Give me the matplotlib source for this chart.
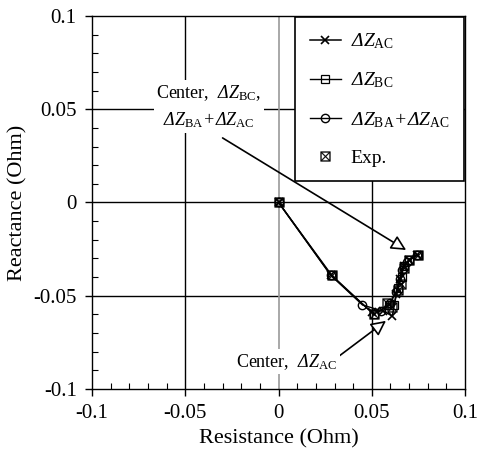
import matplotlib
matplotlib.use("Agg")
import matplotlib.pyplot as plt
from matplotlib.ticker import MultipleLocator

plt.rcParams['font.family'] = ['Liberation Serif', 'DejaVu Serif']
# italic Greek capitals: mathtext forces them to 'rm', so make 'rm' the italic face
# and use 'sf' (set to the upright serif) for the subscripts
plt.rcParams['mathtext.fontset'] = 'custom'
plt.rcParams['mathtext.rm'] = 'Liberation Serif:italic'
plt.rcParams['mathtext.it'] = 'Liberation Serif:italic'
plt.rcParams['mathtext.sf'] = 'Liberation Serif'

# data (Ohm)
exp_r = [0.0, 0.0285, 0.051, 0.058, 0.061, 0.064, 0.0655, 0.067, 0.070, 0.075]
exp_x = [0.0, -0.039, -0.060, -0.054, -0.056, -0.047, -0.044, -0.035, -0.031, -0.028]

ac_r = [0.0, 0.028, 0.050, 0.056, 0.061, 0.063, 0.065, 0.067, 0.070, 0.074]
ac_x = [0.0, -0.039, -0.059, -0.058, -0.061, -0.049, -0.041, -0.034, -0.031, -0.028]

bc_r = [0.0, 0.0285, 0.051, 0.059, 0.062, 0.064, 0.066, 0.067, 0.070, 0.075]
bc_x = [0.0, -0.039, -0.060, -0.055, -0.055, -0.046, -0.040, -0.034, -0.031, -0.028]

baac_r = [0.0, 0.028, 0.045, 0.055, 0.060, 0.063, 0.065, 0.066, 0.069, 0.074]
baac_x = [0.0, -0.039, -0.055, -0.058, -0.054, -0.048, -0.041, -0.036, -0.032, -0.028]

labels = [r'$\Delta Z_{\mathsf{AC}}$',
          r'$\Delta Z_{\mathsf{BC}}$',
          r'$\Delta Z_{\mathsf{BA}}\!+\!\Delta Z_{\mathsf{AC}}$',
          'Exp.']

# arrow ends: text side -> centre
arrow1 = ((-0.030, 0.0346), (0.0684, -0.0255))
arrow2 = ((0.0319, -0.0828), (0.0576, -0.0635))

fig = plt.figure(figsize=(4.78, 4.57), dpi=100)
ax = fig.add_axes([0.1925, 0.149, 0.7805, 0.816])

ax.set_xlim(-0.1, 0.1)
ax.set_ylim(-0.1, 0.1)
ax.xaxis.set_major_locator(MultipleLocator(0.05))
ax.yaxis.set_major_locator(MultipleLocator(0.05))
ax.xaxis.set_minor_locator(MultipleLocator(0.01))
ax.yaxis.set_minor_locator(MultipleLocator(0.01))
ax.xaxis.set_major_formatter(plt.FuncFormatter(lambda v, p: '%g' % round(v, 3)))
ax.yaxis.set_major_formatter(plt.FuncFormatter(lambda v, p: '%g' % round(v, 3)))
ax.tick_params(which='major', direction='out', length=5, width=1, labelsize=15, pad=6, colors='black')
ax.tick_params(which='minor', direction='in', length=4, width=0.8)

for v in (-0.05, 0.05):
    ax.axvline(v, color='black', lw=1, zorder=0)
    ax.axhline(v, color='black', lw=1, zorder=0)
ax.axhline(0, color='black', lw=1, zorder=0)
ax.axvline(0, color='#999999', lw=1.2, zorder=0)

for s in ax.spines.values():
    s.set_linewidth(1)

ax.plot(ac_r, ac_x, color='black', lw=1.1, marker='x', ms=6, mew=1.2, label=labels[0])
ax.plot(bc_r, bc_x, color='black', lw=1.0, marker='s', ms=6, mfc='none', mew=0.9, label=labels[1])
ax.plot(baac_r, baac_x, color='black', lw=1.0, marker='o', ms=6, mfc='none', mew=1.0, label=labels[2])
ax.plot(exp_r, exp_x, linestyle='none', color='black', marker=r'$\boxtimes$', ms=7, mew=0.3, label=labels[3])

ap = dict(arrowstyle='-|>,head_length=0.9,head_width=0.45', fc='white', ec='black', lw=1.2,
          shrinkA=0, shrinkB=0)
ax.annotate('', xy=arrow1[1], xytext=arrow1[0], arrowprops=ap)
ax.annotate('', xy=arrow2[1], xytext=arrow2[0], arrowprops=ap)

bb = dict(facecolor='white', edgecolor='none', pad=2)
ax.text(-0.0375, 0.0515,
        'Center,  $\\Delta Z_{\\mathsf{BC}}$,\n' + labels[2],
        ha='center', va='center', fontsize=13, linespacing=1.5, bbox=bb)
ax.text(0.0315, -0.0855, 'Center,  $\\Delta Z_{\\mathsf{AC}}$',
        ha='right', va='center', fontsize=13, bbox=bb)

leg = ax.legend(loc='upper right', bbox_to_anchor=(1.0, 1.0), borderaxespad=0.05,
                fontsize=14, frameon=True, fancybox=False, framealpha=1,
                edgecolor='black', labelspacing=1.0, handlelength=1.6,
                handletextpad=0.5, borderpad=0.75)
leg.get_frame().set_linewidth(1.2)

ax.set_xlabel('Resistance (Ohm)', fontsize=16, labelpad=4)
ax.set_ylabel('Reactance (Ohm)', fontsize=16, labelpad=4)

fig.savefig('out.png', dpi=100)
